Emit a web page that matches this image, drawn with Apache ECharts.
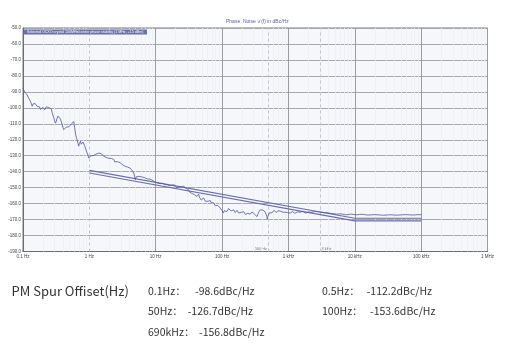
<!DOCTYPE html>
<html>
<head>
<meta charset="utf-8">
<script src="https://cdn.jsdelivr.net/npm/echarts@6/dist/echarts.min.js"></script>
<style>
  html, body { margin: 0; padding: 0; background: #fff; }
  #chart { width: 505px; height: 348px; }
</style>
</head>
<body>
<div id="chart"></div>
<script>
// Offset frequency tick labels (one per decade, 0.1 Hz .. 1 MHz)
const xTickLabels = ['0.1 Hz', '1 Hz', '10 Hz', '100 Hz', '1 kHz', '10 kHz', '100 kHz', '1 MHz'];

// Measured single-sideband phase noise, [offset Hz, dBc/Hz]
const measured = [
  [0.1,-87.7],[0.102,-88.9],[0.104,-88.4],[0.106,-90.2],[0.109,-90.8],[0.112,-90.1],[0.115,-91.8],[0.118,-92.6],
  [0.122,-94],[0.125,-93.2],[0.128,-95.5],[0.132,-96.8],[0.1375,-99],[0.14,-98.1],[0.142,-97.5],[0.146,-96.7],
  [0.15,-97.9],[0.153,-97.4],[0.158,-98.6],[0.163,-99],[0.167,-98.3],[0.172,-100.2],[0.177,-99.4],[0.183,-101],
  [0.188,-100.1],[0.194,-100.8],[0.2,-99.7],[0.206,-100],[0.212,-101.3],[0.218,-100.6],[0.224,-99.4],[0.231,-100.2],
  [0.238,-99.1],[0.245,-99.8],[0.252,-98.9],[0.26,-99.2],[0.267,-100.8],[0.275,-103],[0.282,-104.1],[0.29,-106],
  [0.3,-108.2],[0.309,-109.6],[0.318,-108.3],[0.327,-106.5],[0.336,-105.2],[0.346,-104],[0.356,-105.8],[0.367,-107],
  [0.378,-108.9],[0.39,-110.5],[0.4,-112.2],[0.411,-113.7],[0.423,-112.5],[0.435,-113.2],[0.448,-112.1],[0.462,-112.6],
  [0.475,-111.4],[0.49,-111.9],[0.505,-110.8],[0.519,-111.2],[0.535,-110.1],[0.55,-109.6],[0.566,-108.9],[0.582,-108.6],
  [0.6,-112.3],[0.616,-115.8],[0.635,-118.4],[0.654,-120],[0.672,-122.1],[0.69,-124],[0.71,-122.3],[0.734,-121],
  [0.756,-122.8],[0.78,-122.1],[0.8,-121.4],[0.823,-122.4],[0.846,-123.6],[0.87,-125],[0.9,-126.9],[0.925,-128],
  [0.95,-129.6],[0.98,-131.5],[1.01,-130.6],[1.04,-130.1],[1.07,-130.8],[1.1,-129.4],[1.15,-129.9],[1.2,-129.5],
  [1.25,-129.1],[1.31,-128.8],[1.38,-128.4],[1.47,-128],[1.51,-128.7],[1.55,-129.3],[1.6,-129.8],[1.65,-130.4],
  [1.72,-130.1],[1.8,-131.1],[1.87,-130.7],[1.95,-131.6],[2.0,-131.2],[2.07,-132],[2.15,-131.7],[2.25,-132.7],
  [2.33,-132.3],[2.42,-133.9],[2.52,-133.2],[2.62,-133.7],[2.75,-134.6],[2.9,-134.3],[3.0,-135.3],[3.1,-135],
  [3.2,-135.8],[3.29,-135.5],[3.45,-136.6],[3.6,-136.2],[3.75,-137.1],[3.9,-136.8],[4.0,-137.6],[4.15,-137.9],
  [4.28,-138.7],[4.4,-139.2],[4.53,-140],[4.66,-140.8],[4.8,-142.9],[4.94,-145],[5.08,-143.2],[5.24,-142],
  [5.42,-142.6],[5.6,-142.9],[5.8,-142.2],[6.0,-142.5],[6.3,-143.4],[6.58,-142.9],[6.85,-143.8],[7.1,-144],
  [7.45,-144.6],[7.83,-145.1],[8.1,-144.6],[8.4,-145.6],[8.7,-145.1],[9.0,-144.7],[9.3,-145.8],[9.6,-146.3],
  [10,-145.9],[10.5,-147],[10.8,-146.2],[11.2,-146.6],[11.6,-147.5],[12,-147.9],[12.4,-147],[12.8,-147.3],
  [13.3,-148.4],[13.8,-148.2],[14.3,-147.5],[14.8,-148.1],[15.3,-147.3],[15.8,-147.6],[16.3,-148.9],[16.8,-149.1],
  [17.2,-148.1],[17.6,-148.4],[18.1,-149.3],[18.6,-148.9],[19.2,-148.3],[19.8,-148.8],[20.4,-149.9],[21,-150.1],
  [21.6,-149.2],[22.3,-149.5],[22.9,-150.6],[23.5,-150.4],[24.2,-149.6],[24.9,-150.2],[25.6,-149.4],[26.3,-149.1],
  [27.1,-149.7],[27.9,-149],[28.7,-150.4],[29.5,-150.9],[30.3,-151.6],[31.2,-151.3],[32.2,-152.6],[33.2,-152.1],
  [34.2,-153.1],[35.3,-153.7],[36.4,-152.9],[37.5,-153.2],[38.5,-154.4],[39.6,-154.8],[40.7,-153.9],[41.9,-155.5],
  [43.1,-154.8],[44.3,-154.1],[45.6,-155.9],[47,-157.1],[48.4,-157.8],[49.8,-158.6],[51.1,-157.5],[52.5,-156.4],
  [54.1,-157.4],[55.8,-158.5],[57.5,-157.9],[59.3,-157.3],[61,-158.6],[62.7,-159.6],[64.5,-158.9],[66.4,-158.1],
  [68.3,-159.4],[70.3,-160.6],[72.4,-160.1],[74.5,-159.5],[76.6,-160.3],[78.8,-161.3],[81.1,-160.9],[83.5,-160.2],
  [86,-161.1],[88.6,-162.1],[91.3,-161.6],[94,-162.8],[96.7,-163.5],[99.5,-164.3],[102,-165.1],[105,-165.9],
  [108,-164.4],[111,-163.4],[114.5,-164.1],[118,-165],[121.5,-164.2],[125,-163.1],[129,-163.9],[133,-163.6],
  [137,-164.6],[141,-165.3],[145.5,-164.5],[150,-163.9],[154,-164.7],[158,-165.6],[163,-165],[168,-164.2],
  [173,-165.1],[178,-165.9],[183,-165.3],[188,-164.7],[194,-165.5],[200,-166.3],[206,-165.6],[212,-165.1],
  [218,-165.9],[224,-166.8],[230,-166.3],[237,-167],[244,-166.1],[251,-165.3],[258,-165.9],[266,-166.6],
  [274,-165.8],[282,-165.2],[290,-165.7],[298,-166.1],[307,-166.6],[317,-166.9],[326,-167.5],[336,-168.1],
  [346,-166.7],[356,-165.4],[366,-164.6],[376,-163.9],[388,-164.3],[400,-164.6],[412,-164.1],[425,-163.6],
  [435,-164.4],[445,-165.1],[454,-165.6],[463,-166.1],[472,-167.9],[480,-169.6],[490,-168.1],[500,-166.9],
  [516,-165.8],[533,-165.1],[551,-165.4],[570,-165.7],[590,-164.9],[610,-164.2],[630,-164.8],[650,-165.5],
  [675,-165.1],[700,-164.5],[727,-164.9],[754,-164.7],[777,-165.3],[800,-165.9],[830,-165.4],[860,-164.9],
  [895,-165.4],[930,-166],[965,-165.6],[1000,-165.1],[1033,-165.5],[1066,-165.9],[1107,-165.5],[1150,-165],
  [1200,-165.6],[1250,-166.1],[1310,-165.7],[1370,-165.2],[1440,-165.5],[1507,-165.4],[1580,-165.1],[1650,-164.8],
  [1720,-165.4],[1800,-166],[1900,-165.7],[2000,-165.3],[2131,-165.8],[2260,-165.4],[2400,-165],[2540,-164.9],
  [2685,-164.7],[2850,-165.2],[3000,-165.6],[3250,-165.4],[3500,-165.8],[3850,-165.6],[4245,-166.1],[4800,-166.3],
  [5360,-166.6],[5900,-166.4],[6500,-166.6],[7000,-166.9],[7580,-167],[8300,-166.7],[9000,-166.6],[9800,-166.9],
  [10730,-167],[11800,-166.8],[13000,-166.7],[14500,-167],[16000,-167.2],[18000,-167],[20000,-166.9],[23500,-167.1],
  [27000,-167.3],[31000,-167.1],[35000,-167],[40000,-167.2],[45000,-167.2],[52000,-167],[60000,-166.9],[70000,-167.1],
  [80000,-167.1],[90000,-166.9],[100000,-167]
];

// Specification mask, drawn as a narrow upper/lower band
const specUpper = [[1,-139.2],[10000,-169.2],[100000,-169.2]];
const specLower = [[1,-140.8],[10000,-170.8],[100000,-170.8]];

// Vertical reference markers
const markerLines = [1, 500, 3000];
const markerLabels = [[500,-188.6,'500 Hz','left'],[3000,-188.6,'3 kHz','right']];

// Spur table below the plot
const spurTitle = 'PM Spur Offiset(Hz)';
const spurRows = [
  ['0.1Hz：', '-98.6dBc/Hz', '0.5Hz：', '-112.2dBc/Hz'],
  ['50Hz：', '-126.7dBc/Hz', '100Hz：', '-153.6dBc/Hz'],
  ['690kHz：', '-156.8dBc/Hz']
];

const legendText = 'Selected OCXO crystal 100MHz/center phase stability (1 MHz, +15 dBm)';

// minor decade lines at 2..9 x 10^n
const minorLines = [];
for (let e = -1; e < 6; e++) {
  for (let m = 2; m <= 9; m++) minorLines.push({ xAxis: m * Math.pow(10, e) });
}

const chart = echarts.init(document.getElementById('chart'), null, { renderer: 'canvas' });

const tinyFont = { fontFamily: 'Liberation Sans, Arial, sans-serif', fontSize: 4.5, color: '#444' };
const cjkFont = '"Noto Sans CJK SC", "Noto Sans", sans-serif';
const spurGraphics = [];
spurGraphics.push({
  type: 'text', left: 11.5, top: 284.5,
  style: { text: spurTitle, font: '13px ' + cjkFont, fill: '#333' }
});
const rowY = [285.5, 306, 326.5];
const labelX = [148, 322];
const valuePos = [[195, 366.7], [187.7, 370], [199]];
spurRows.forEach((row, r) => {
  for (let c = 0; c < row.length; c += 2) {
    const col = c / 2;
    spurGraphics.push({
      type: 'text', left: labelX[col], top: rowY[r],
      style: { text: row[c], font: '10.5px ' + cjkFont, fill: '#333' }
    });
    spurGraphics.push({
      type: 'text', left: valuePos[r][col], top: rowY[r],
      style: { text: row[c + 1], font: '10.5px ' + cjkFont, fill: '#333' }
    });
  }
});

chart.setOption({
  animation: false,
  backgroundColor: '#ffffff',
  title: {
    text: 'Phase  Noise ℒ(f) in dBc/Hz',
    left: 221, top: 14.5,
    textStyle: { fontFamily: 'Liberation Sans, Arial, sans-serif', fontSize: 5, fontWeight: 'normal', color: '#5a60a8' }
  },
  grid: {
    left: 23, right: 17.5, top: 28, bottom: 96.5,
    show: true, backgroundColor: '#f5f7fb', borderColor: '#7a7a80', borderWidth: 1
  },
  xAxis: {
    type: 'log', logBase: 10, min: 0.1, max: 1000000, interval: 1,
    axisLine: { show: true, lineStyle: { color: '#6a6a70', width: 1 } },
    axisTick: { show: false },
    axisLabel: Object.assign({ margin: 3, formatter: (v, i) => xTickLabels[i] }, tinyFont),
    splitLine: { show: true, lineStyle: { width: 1, color: ['#9a9aa2', 'rgba(0,0,0,0)', '#9a9aa2', '#9a9aa2', '#9a9aa2', '#9a9aa2', '#9a9aa2', '#9a9aa2'] } }
  },
  yAxis: {
    type: 'value', min: -190, max: -50, interval: 10,
    axisLine: { show: true, lineStyle: { color: '#6a6a70', width: 1 } },
    axisTick: { show: false },
    axisLabel: Object.assign({ margin: 2, formatter: v => v.toFixed(1) }, tinyFont),
    splitLine: { show: true, lineStyle: { color: '#a6a6ae', width: 1 } }
  },
  graphic: [
    {
      type: 'rect', shape: { x: 24, y: 29.5, width: 123, height: 5 },
      style: { fill: '#6b70a9' }, z: 100
    },
    {
      type: 'text', x: 27, y: 32, z: 101,
      style: { text: legendText, font: '3.6px "Liberation Sans", Arial, sans-serif', fill: '#ffffff', verticalAlign: 'middle' }
    }
  ].concat(spurGraphics),
  series: [
    {
      name: 'minor', type: 'line', data: [], z: 1, silent: true,
      markLine: {
        silent: true, symbol: 'none', label: { show: false },
        lineStyle: { color: '#eceef4', width: 0.8, type: 'solid', opacity: 1 },
        emphasis: { disabled: true },
        data: minorLines, animation: false
      }
    },
    {
      name: 'markers', type: 'line', data: [], z: 2, silent: true,
      markLine: {
        silent: true, symbol: 'none', label: { show: false },
        lineStyle: { color: '#c4c4cc', width: 1, type: [3, 3], opacity: 1 },
        data: markerLines.map(v => ({ xAxis: v })), animation: false
      }
    },
    {
      name: 'markerText', type: 'scatter', symbolSize: 0, z: 3, silent: true,
      data: markerLabels.map(m => ({
        value: [m[0], m[1]],
        label: { show: true, position: m[3], distance: 1.5, formatter: m[2], fontSize: 3.8, color: '#555', fontFamily: 'Liberation Sans, Arial, sans-serif' }
      }))
    },
    {
      name: 'specUpper', type: 'line', data: specUpper, symbol: 'none', z: 5,
      lineStyle: { color: '#6a6ea8', width: 1.1 }
    },
    {
      name: 'specLower', type: 'line', data: specLower, symbol: 'none', z: 5,
      lineStyle: { color: '#6a6ea8', width: 1.1 }
    },
    {
      name: 'measured', type: 'line', data: measured, symbol: 'none', z: 6,
      lineStyle: { color: '#4e56a0', width: 0.8 }
    }
  ]
});
</script>
</body>
</html>
